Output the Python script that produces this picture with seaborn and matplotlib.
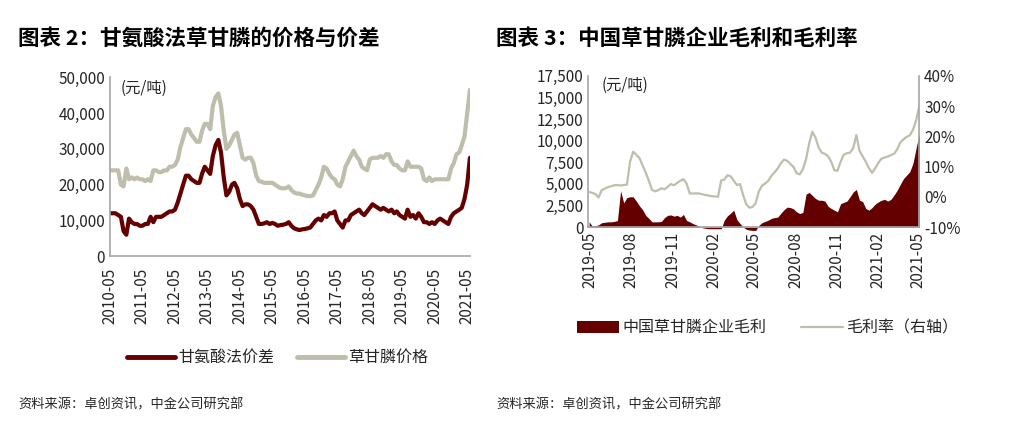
import matplotlib
matplotlib.use("Agg")
import matplotlib.pyplot as plt
import matplotlib.ticker as mticker
import matplotlib.dates as mdates
from matplotlib.patches import Patch
from matplotlib.lines import Line2D
import seaborn as sns
import pandas as pd

# chart 2: monthly, 2010-05 .. 2021-06 (yuan/ton)
price_glyphosate = [
    24000, 24000, 24000, 24000, 20000, 19500, 24500, 21500,
    22000, 21500, 22000, 21500, 21500, 21000, 21500, 21000, 24000, 24000, 23500, 23500,
    24000, 24000, 25000, 25000, 25500, 27000, 30500, 33000, 35500, 35500, 34000, 33000,
    32000, 32000, 35000, 37000, 37000, 35500, 42000, 44500, 45500, 42000, 35000, 30000,
    31000, 32500, 34000, 34500, 31000, 27500, 27000, 27500, 27500, 26000, 22500, 21000,
    20800, 20500, 20500, 20500, 20500, 20000, 19500, 19000, 19000, 19000, 19500, 18500,
    17800, 17500, 17500, 17200, 17000, 16800, 16800, 17000, 18500, 20000, 22000, 25000,
    24500, 23000, 22000, 21500, 20000, 19500, 21500, 25000, 26500, 28000, 29500, 28000,
    27000, 25000, 24500, 24000, 27000, 27500, 27500, 27500, 28000, 27500, 28500, 28500,
    26500, 25500, 25500, 24500, 24000, 24000, 26500, 25000, 25000, 25000, 25000, 24500,
    21500, 21000, 22000, 21000, 21500, 21500, 21500, 21500, 21500, 21500, 24500, 26000,
    28500, 29000, 31000, 33500, 40000, 46500,
]
spread_glycine = [
    12000, 12000, 12000, 11500, 11000, 7000, 6000, 10500,
    9500, 9000, 9000, 8500, 8500, 9000, 9000, 11000, 9500, 11000, 11000, 11000,
    11500, 12000, 12500, 12500, 13000, 15000, 17500, 20000, 22500, 22500, 21500, 21000,
    20500, 20500, 23000, 25000, 24000, 23000, 28000, 31000, 32500, 29000, 22000, 17000,
    18000, 20000, 20500, 19000, 16000, 14000, 14500, 14500, 14000, 13000, 11000, 9000,
    9000, 9200, 9500, 9000, 9300, 9000, 8500, 8700, 8800, 9000, 9500, 8500,
    7800, 7500, 7300, 7500, 7600, 7800, 8000, 9000, 10000, 10500, 10000, 11500,
    11000, 12000, 12000, 12500, 10000, 9000, 8000, 10000, 10000, 11500, 12000, 12500,
    13000, 12000, 11500, 12500, 13500, 14500, 14000, 13500, 13000, 13500, 13000, 12500,
    13000, 12000, 12500, 11500, 11000, 10500, 13000, 11000, 11500, 10500, 12000, 11000,
    9500, 9500, 9000, 9500, 9000, 10000, 10500, 10000, 9500, 9000, 11000, 12000,
    12500, 13000, 13500, 16000, 20000, 27500,
]
months = pd.date_range("2010-05-01", periods=len(price_glyphosate), freq="MS")
left_ticks = pd.date_range("2010-05-01", "2021-05-01", freq="12MS")

# chart 3: weekly, 2019-04-29 .. 2021-05-03
gross_profit = [
    600, 100, 150, 250, 500, 550, 600, 600, 650, 750,
    4200, 2800, 3400, 3500, 3500, 3000, 2450, 2000, 1350, 1000,
    600, 600, 600, 650, 1100, 1350, 1400, 1250, 1350, 1150,
    1450, 750, 600, 400, 250, 100, -80, -150, -200, -200,
    -200, -200, -200, 800, 1300, 1600, 1950, 850, 400, 0,
    -270, -350, -390, -390, 200, 500, 650, 800, 1000, 1100,
    1150, 1600, 2000, 2300, 2250, 2100, 1750, 1550, 1700, 3800,
    4000, 3650, 3300, 3100, 3100, 3000, 2400, 2150, 1950, 1750,
    2700, 2850, 3000, 3500, 4050, 4350, 3100, 2950, 2150, 1950,
    2250, 2650, 2900, 3100, 3200, 3000, 3200, 3700, 4250, 4950,
    5600, 6000, 6400, 7350, 9100, 10800,
]
margin_pct = [
    1.6, 1.3, 0.9, -0.2, 2.2, 2.7, 3.2, 3.5, 3.8, 3.9,
    3.7, 3.9, 4.0, 11.5, 14.9, 13.9, 12.8, 10.4, 8.0, 5.3,
    2.3, 1.8, 2.2, 2.8, 2.5, 3.3, 4.2, 3.8, 4.6, 5.3,
    5.8, 4.4, 1.1, 1.1, 1.1, 1.1, 0.8, 0.6, 0.4, 0.2,
    0.1, 0.0, 5.4, 5.7, 7.1, 6.8, 5.3, 3.9, 4.2, 0.5,
    -2.5, -3.6, -3.4, -2.0, 1.8, 3.7, 4.4, 5.3, 7.0, 8.1,
    9.4, 11.1, 12.3, 11.9, 10.9, 9.9, 7.8, 7.4, 9.1, 12.4,
    17.7, 21.5, 19.6, 16.3, 14.6, 14.2, 13.4, 11.6, 8.8, 8.6,
    11.6, 13.9, 14.4, 14.6, 16.0, 20.4, 15.2, 13.4, 11.6, 9.5,
    7.9, 9.4, 11.2, 12.6, 13.0, 13.3, 13.8, 14.2, 15.7, 18.0,
    19.0, 19.8, 20.3, 22.1, 25.2, 29.8,
]
weeks = pd.date_range("2019-04-29", periods=len(gross_profit), freq="7D")
right_ticks = pd.date_range("2019-05-01", "2021-05-01", freq="3MS")

RED = "#650000"
GREY = "#BFBDAB"
SPINE = "#A6A6A6"
TXT = "#262626"

sns.set_theme(style="white")
plt.rcParams["font.family"] = ["Noto Sans CJK SC", "DejaVu Sans"]
plt.rcParams["axes.unicode_minus"] = False


def style_axes(ax):
    for s in ["top", "right"]:
        ax.spines[s].set_visible(False)
    for s in ["left", "bottom"]:
        ax.spines[s].set_color(SPINE)
        ax.spines[s].set_linewidth(1.2)
    ax.tick_params(labelsize=11, colors=TXT, length=0)
    ax.set_xlabel("")
    ax.set_ylabel("")


def price_chart(fig):
    ax = fig.add_axes([0.109, 0.407, 0.357, 0.414])
    sns.lineplot(x=months, y=price_glyphosate, color=GREY, linewidth=3, ax=ax)
    sns.lineplot(x=months, y=spread_glycine, color=RED, linewidth=3, ax=ax)
    style_axes(ax)
    ax.tick_params(axis="x", length=5, color=SPINE, width=1)
    ax.set_ylim(0, 50000)
    ax.set_yticks(range(0, 50001, 10000))
    ax.yaxis.set_major_formatter(mticker.StrMethodFormatter("{x:,.0f}"))
    ax.set_xlim(months[0], months[-1] + pd.Timedelta(days=3))
    ax.set_xticks(left_ticks)
    ax.xaxis.set_major_formatter(mdates.DateFormatter("%Y-%m"))
    plt.setp(ax.get_xticklabels(), rotation=90)
    ax.text(0.03, 0.94, "(元/吨)", transform=ax.transAxes, fontsize=11, color=TXT, va="center")
    handles = [Line2D([], [], color=RED, linewidth=3.5), Line2D([], [], color=GREY, linewidth=3.5)]
    fig.legend(handles, ["甘氨酸法价差", "草甘膦价格"], loc="center left",
               bbox_to_anchor=(0.112, 0.172), ncol=2, frameon=False, fontsize=11.5,
               handlelength=3.0, handletextpad=0.2, columnspacing=1.4, labelcolor=TXT)


def profit_chart(fig):
    ax = fig.add_axes([0.583, 0.4745, 0.328, 0.35])
    ax.fill_between(weeks, gross_profit, 0, color=RED, linewidth=0, clip_on=False)
    style_axes(ax)
    ax.set_ylim(0, 17500)
    ax.set_yticks(range(0, 17501, 2500))
    ax.yaxis.set_major_formatter(mticker.StrMethodFormatter("{x:,.0f}"))
    ax.set_xlim(weeks[0] - pd.Timedelta(days=2), weeks[-1])
    ax.set_xticks(right_ticks)
    ax.xaxis.set_major_formatter(mdates.DateFormatter("%Y-%m"))
    plt.setp(ax.get_xticklabels(), rotation=90)
    ax.text(0.04, 0.94, "(元/吨)", transform=ax.transAxes, fontsize=11, color=TXT, va="center")

    ax2 = ax.twinx()
    sns.lineplot(x=weeks, y=margin_pct, color=GREY, linewidth=1.6, ax=ax2)
    ax2.set_ylim(-10, 40)
    ax2.set_yticks(range(-10, 41, 10))
    ax2.yaxis.set_major_formatter(mticker.FuncFormatter(lambda v, p: f"{v:.0f}%"))
    for s in ["top", "left", "bottom"]:
        ax2.spines[s].set_visible(False)
    ax2.spines["right"].set_color(SPINE)
    ax2.spines["right"].set_linewidth(1.2)
    ax2.tick_params(labelsize=11, colors=TXT, length=0)
    ax2.set_xlabel("")
    ax2.set_ylabel("")
    ax2.grid(False)

    handles = [Patch(facecolor=RED, edgecolor="none"), Line2D([], [], color=GREY, linewidth=1.6)]
    fig.legend(handles, ["中国草甘膦企业毛利", "毛利率（右轴）"], loc="center left",
               bbox_to_anchor=(0.558, 0.241), ncol=2, frameon=False, fontsize=11.5,
               handlelength=2.6, handleheight=0.8, handletextpad=0.2, columnspacing=2.2,
               labelcolor=TXT)


fig = plt.figure(figsize=(10.09, 4.32), dpi=100)
price_chart(fig)
profit_chart(fig)

fig.text(0.018, 1 - 38 / 432, "图表 2：甘氨酸法草甘膦的价格与价差", fontsize=15.5,
         fontweight="bold", color="black", va="center")
fig.text(0.492, 1 - 38 / 432, "图表 3：中国草甘膦企业毛利和毛利率", fontsize=15.5,
         fontweight="bold", color="black", va="center")
fig.text(0.018, 1 - 405 / 432, "资料来源：卓创资讯，中金公司研究部", fontsize=9.5, color=TXT, va="center")
fig.text(0.492, 1 - 405 / 432, "资料来源：卓创资讯，中金公司研究部", fontsize=9.5, color=TXT, va="center")

fig.savefig("out.png", dpi=100)
